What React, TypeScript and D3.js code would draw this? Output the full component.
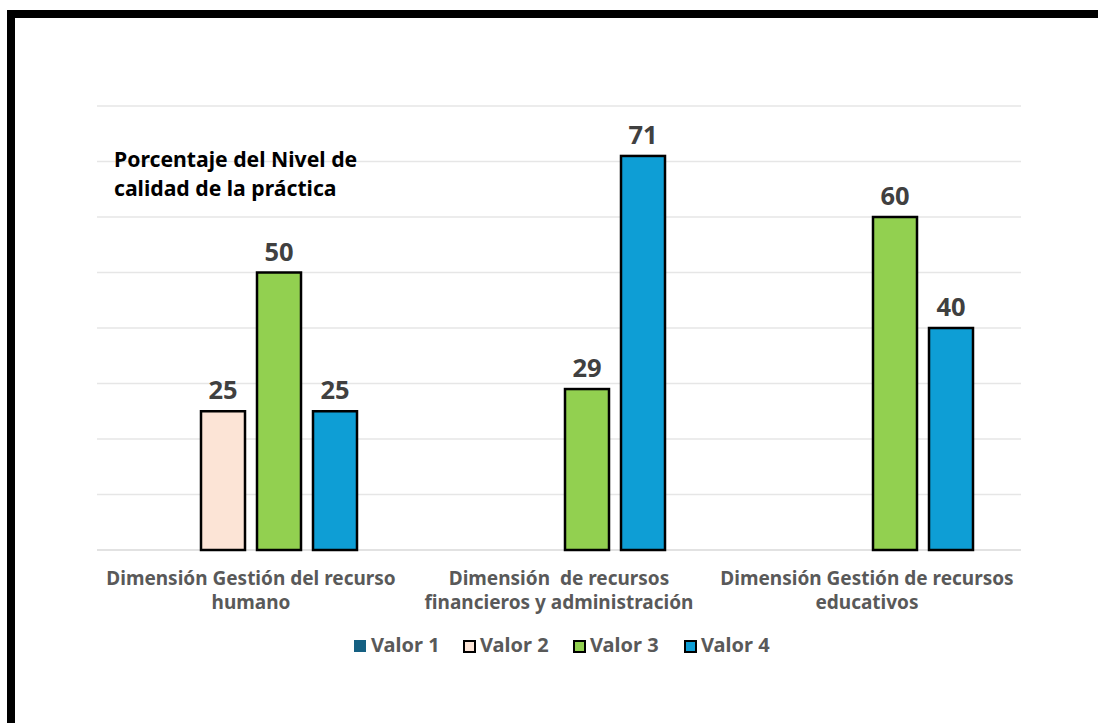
import React from "react";
import * as d3 from "d3";

const categories: string[][] = [
  ["Dimensión Gestión del recurso", "humano"],
  ["Dimensión  de recursos", "financieros y administración"],
  ["Dimensión Gestión de recursos", "educativos"],
];
const seriesNames = ["Valor 1", "Valor 2", "Valor 3", "Valor 4"];
const seriesColors = ["#156082", "#FCE4D6", "#92D050", "#0E9ED5"];
const valor1: (number | null)[] = [null, null, null];
const valor2: (number | null)[] = [25, null, null];
const valor3: (number | null)[] = [50, 29, 60];
const valor4: (number | null)[] = [25, 71, 40];
const gridTicks = [0, 10, 20, 30, 40, 50, 60, 70, 80];
const titleLines = ["Porcentaje del Nivel de", "calidad de la práctica"];

const W = 1098;
const H = 723;
const FONT = "'Noto Sans', 'Open Sans', sans-serif";

export default function App() {
  const series = [valor1, valor2, valor3, valor4];
  const left = 97, right = 1021, top = 106, bottom = 550;
  const x0 = d3.scaleBand<number>().domain([0, 1, 2]).range([left, right]);
  const groupW = 224;
  const x1 = d3.scaleBand<number>().domain([0, 1, 2, 3]).range([0, groupW]).paddingInner(12 / 56).paddingOuter(6 / 56);
  const y = d3.scaleLinear().domain([0, 80]).range([bottom, top]);

  const legendItems = [
    { x: 354, textX: 371 },
    { x: 463, textX: 480 },
    { x: 573, textX: 590 },
    { x: 684, textX: 701 },
  ];

  return (
    <svg width={W} height={H} style={{ position: "absolute", left: 0, top: 0, background: "#fff" }}>
      <rect x={0} y={0} width={W} height={H} fill="#fff" />
      {/* border */}
      <rect x={7} y={10} width={W - 7} height={8} fill="#000" />
      <rect x={7} y={10} width={8} height={H - 10} fill="#000" />
      {/* gridlines */}
      {gridTicks.map((t) => (
        <line key={t} x1={left} x2={right} y1={y(t)} y2={y(t)} stroke={t === 0 ? "#d9d9d9" : "#e6e6e6"} strokeWidth={1.3} />
      ))}
      {/* bars */}
      {categories.map((_, ci) => {
        const gx = (x0(ci) as number) + x0.bandwidth() / 2 - groupW / 2;
        return series.map((s, si) => {
          const v = s[ci];
          if (v == null) return null;
          const bx = gx + (x1(si) as number);
          const bw = x1.bandwidth();
          return (
            <g key={`${ci}-${si}`}>
              <rect x={bx} y={y(v)} width={bw} height={y(0) - y(v)} fill={seriesColors[si]} stroke="#000" strokeWidth={2.5} />
              <text x={bx + bw / 2} y={y(v) - 12} textAnchor="middle" fontFamily={FONT} fontWeight={700} fontSize={25.5} fill="#404040">
                {v}
              </text>
            </g>
          );
        });
      })}
      {/* category labels */}
      {categories.map((lines, ci) => {
        const cx = (x0(ci) as number) + x0.bandwidth() / 2;
        return lines.map((ln, li) => (
          <text key={`${ci}-${li}`} x={cx} y={585 + li * 24} textAnchor="middle" fontFamily={FONT} fontWeight={700} fontSize={19} fill="#595959" style={{ whiteSpace: "pre" }}>
            {ln}
          </text>
        ));
      })}
      {/* title */}
      {titleLines.map((ln, i) => (
        <text key={i} x={114} y={167 + i * 29} fontFamily={FONT} fontWeight={700} fontSize={21.2} fill="#000">
          {ln}
        </text>
      ))}
      {/* legend */}
      {seriesNames.map((n, i) => (
        <g key={n}>
          {i === 0 ? (
            <rect x={legendItems[i].x} y={640} width={12} height={12} fill={seriesColors[i]} />
          ) : (
            <rect x={legendItems[i].x + 1} y={641} width={11} height={11} fill={seriesColors[i]} stroke="#000" strokeWidth={2} />
          )}
          <text x={legendItems[i].textX} y={652} fontFamily={FONT} fontWeight={700} fontSize={20} fill="#595959">
            {n}
          </text>
        </g>
      ))}
    </svg>
  );
}
